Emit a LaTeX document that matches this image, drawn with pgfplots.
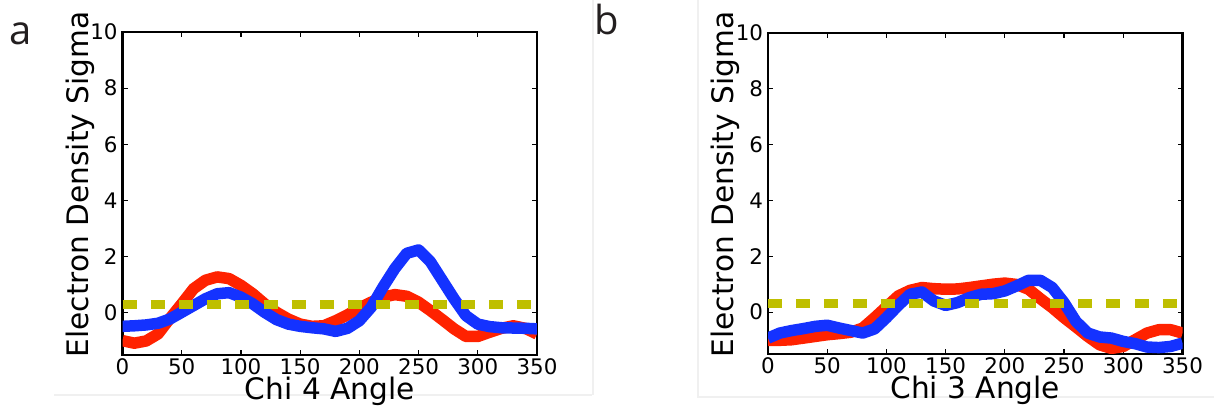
\documentclass[border=0pt]{standalone}
\usepackage{fontspec}
\setmainfont{DejaVu Sans}
\newfontfamily\panelfont{Open Sans}
\usepackage{pgfplots}
\pgfplotsset{compat=1.18}

\definecolor{linered}{RGB}{255,34,0}
\definecolor{lineblue}{RGB}{20,50,255}
\definecolor{dashyel}{RGB}{191,191,0}
\definecolor{panelgray}{RGB}{35,31,32}

\pgfplotsset{densplot/.style={
  scale only axis, width=207.25pt,
  xmin=0, xmax=350, ymin=-1.5, ymax=10,
  xtick={0,50,...,350}, ytick={0,2,...,10},
  tick align=inside, xtick pos=both, ytick pos=both,
  major tick length=2.5pt,
  every tick/.style={black, line width=0.6pt},
  axis line style={line width=1.2pt},
  tick label style={font=\fontsize{10.7}{12}\selectfont},
  /pgf/number format/assume math mode=true,
  yticklabel style={anchor=east, inner sep=0pt, xshift=-2.25pt},
  xticklabel style={anchor=north, inner sep=0pt, yshift=-1.5pt},
  label style={font=\fontsize{14.8}{17}\selectfont},
  xlabel style={at={(axis description cs:0.5,0)}, anchor=base, yshift=-22.5pt},
  ylabel style={at={(axis description cs:-0.1025,0.528)}, anchor=center},
  ylabel={Electron Density Sigma},
  red curve/.style={linered, line width=5.75pt, line join=round, sharp plot},
  blue curve/.style={lineblue, line width=5.75pt, line join=round, sharp plot},
  cutoff/.style={dashyel, line width=4.5pt, dash pattern=on 7pt off 7.1pt},
}}

\begin{document}
\begin{tikzpicture}
\useasboundingbox (0,0) rectangle (607pt,205pt);

% faint panel frames
\draw[gray!12, line width=0.6pt] (27pt,7.5pt) -- (296pt,7.5pt);
\draw[gray!12, line width=0.6pt] (296.5pt,205pt) -- (296.5pt,7.5pt);
\draw[gray!12, line width=0.6pt] (349pt,205pt) -- (349pt,6.5pt) -- (607pt,6.5pt);

\node[anchor=base west, inner sep=0pt, text=panelgray, font=\panelfont\fontsize{20}{24}\selectfont] at (4.5pt,182.5pt) {a};
\node[anchor=base west, inner sep=0pt, text=panelgray, font=\panelfont\fontsize{20}{24}\selectfont] at (297pt,187.5pt) {b};

% panel a
\begin{axis}[densplot, at={(61.25pt,27.5pt)}, anchor=south west, height=161.5pt,
  xlabel={Chi 4 Angle}]
\addplot[red curve] coordinates {
 (0,-0.99) (10,-1.08) (20,-1.0) (30,-0.75) (40,-0.2) (50,0.32) (60,0.86)
 (70,1.16) (80,1.28) (90,1.22) (100,0.98) (110,0.68) (120,0.32) (130,0.02)
 (140,-0.22) (150,-0.4) (160,-0.48) (170,-0.46) (180,-0.28) (190,-0.07)
 (200,0.17) (210,0.38) (220,0.56) (230,0.65) (240,0.59) (250,0.38) (260,0.08)
 (270,-0.24) (280,-0.57) (290,-0.84) (300,-0.84) (310,-0.69) (320,-0.55)
 (330,-0.46) (340,-0.55) (350,-0.75)
};
\addplot[blue curve] coordinates {
 (0,-0.48) (10,-0.46) (20,-0.43) (30,-0.37) (40,-0.22) (50,0.02) (60,0.26)
 (70,0.5) (80,0.68) (90,0.72) (100,0.56) (110,0.32) (120,0.02) (130,-0.24)
 (140,-0.4) (150,-0.48) (160,-0.53) (170,-0.57) (180,-0.66) (190,-0.55)
 (200,-0.28) (210,0.2) (220,0.92) (230,1.58) (240,2.12) (250,2.24) (260,1.82)
 (270,1.16) (280,0.5) (290,-0.1) (300,-0.4) (310,-0.49) (320,-0.53)
 (330,-0.54) (340,-0.55) (350,-0.57)
};
\addplot[cutoff] coordinates {(0,0.3) (350,0.3)};
\end{axis}

% panel b
\begin{axis}[densplot, at={(384pt,28pt)}, anchor=south west, height=160.5pt,
  xlabel={Chi 3 Angle}]
\addplot[red curve] coordinates {
 (0,-1.01) (10,-1.01) (20,-0.99) (30,-0.93) (40,-0.87) (50,-0.81) (60,-0.77)
 (70,-0.72) (80,-0.57) (90,-0.2) (100,0.19) (110,0.58) (120,0.78) (130,0.88)
 (140,0.84) (150,0.82) (160,0.83) (170,0.88) (180,0.94) (190,1.0) (200,1.04)
 (210,0.99) (220,0.82) (230,0.48) (240,0.16) (250,-0.2) (260,-0.53)
 (270,-0.87) (280,-1.17) (290,-1.3) (300,-1.23) (310,-0.99) (320,-0.75)
 (330,-0.63) (340,-0.63) (350,-0.75)
};
\addplot[blue curve] coordinates {
 (0,-0.93) (10,-0.75) (20,-0.66) (30,-0.59) (40,-0.51) (50,-0.47) (60,-0.57)
 (70,-0.66) (80,-0.75) (90,-0.6) (100,-0.2) (110,0.24) (120,0.64) (130,0.72)
 (140,0.4) (150,0.24) (160,0.34) (170,0.52) (180,0.64) (190,0.66) (200,0.76)
 (210,0.94) (220,1.14) (230,1.14) (240,0.88) (250,0.34) (260,-0.33)
 (270,-0.75) (280,-0.89) (290,-0.93) (300,-1.05) (310,-1.13) (320,-1.25)
 (330,-1.27) (340,-1.23) (350,-1.11)
};
\addplot[cutoff] coordinates {(0,0.3) (350,0.3)};
\end{axis}
\end{tikzpicture}
\end{document}
